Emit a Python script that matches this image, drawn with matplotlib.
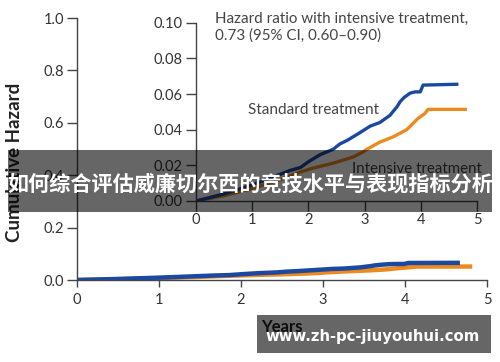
import matplotlib
matplotlib.use("Agg")
import matplotlib.pyplot as plt
from matplotlib.patches import Rectangle

# ---- data ----
std_years = [0, 0.25, 0.5, 0.75, 1.0, 1.25, 1.5, 1.68, 1.86, 2.0, 2.21, 2.44, 2.56, 2.69,
             2.9, 3.1, 3.27, 3.45, 3.58, 3.63, 3.7, 3.81, 3.9, 3.99, 4.04, 4.67]
std_hazard = [0, 0.002, 0.004, 0.0065, 0.009, 0.012, 0.015, 0.0172, 0.0188, 0.022, 0.026,
              0.029, 0.032, 0.034, 0.038, 0.042, 0.044, 0.048, 0.053, 0.0556, 0.058, 0.0605,
              0.0612, 0.0612, 0.065, 0.0655]
int_years = [0, 0.25, 0.5, 0.75, 1.0, 1.25, 1.5, 1.85, 2.09, 2.45, 2.8, 2.97, 3.04, 3.27,
             3.51, 3.75, 3.95, 4.07, 4.13, 4.82]
int_hazard = [0, 0.0015, 0.003, 0.005, 0.007, 0.0095, 0.012, 0.0162, 0.0185, 0.0213, 0.0247,
              0.0275, 0.029, 0.033, 0.036, 0.040, 0.0463, 0.049, 0.0514, 0.0514]
main_yticks = [0.0, 0.2, 0.4, 0.6, 0.8, 1.0]
inset_yticks = [0.00, 0.02, 0.04, 0.06, 0.08, 0.10]
xticks = [0, 1, 2, 3, 4, 5]

BLUE = "#1c49a0"
ORANGE = "#ec8a20"
TXT = "#333333"
FONT = "Lato"

W, H = 500, 362
fig = plt.figure(figsize=(W / 100, H / 100), dpi=100)
fig.patch.set_facecolor("white")

def px_axes(x0, y_top, x1, y_bot):
    return fig.add_axes([x0 / W, 1 - y_bot / H, (x1 - x0) / W, (y_bot - y_top) / H])

def style(ax):
    for s in ("top", "right"):
        ax.spines[s].set_visible(False)
    for s in ("left", "bottom"):
        ax.spines[s].set_color("#444444")
        ax.spines[s].set_linewidth(1.0)
    ax.tick_params(direction="out", colors="#444444", labelcolor=TXT, width=1.0,
                   labelsize=10.5, length=5.5, pad=2.5)
    for lab in ax.get_xticklabels() + ax.get_yticklabels():
        lab.set_fontfamily(FONT)

# main axes
ax = px_axes(77, 18, 487, 280)
ax.plot(std_years, std_hazard, color=BLUE, lw=3.2, solid_capstyle="butt", zorder=3)
ax.plot(int_years, int_hazard, color=ORANGE, lw=3.2, solid_capstyle="butt", zorder=2)
ax.set_xlim(0, 5)
ax.set_ylim(0, 1.0)
ax.set_xticks(xticks)
ax.set_yticks(main_yticks)
ax.set_yticklabels([f"{v:.1f}" for v in main_yticks])
ax.set_xticklabels([str(v) for v in xticks])
style(ax)
ax.tick_params(axis="x", length=5, pad=4)
ax.tick_params(axis="y", length=7)
ax.set_facecolor("none")

# inset axes
ins = px_axes(196, 22.7, 477, 201)
ins.plot(std_years, std_hazard, color=BLUE, lw=2.4, solid_capstyle="butt", zorder=3)
ins.plot(int_years, int_hazard, color=ORANGE, lw=2.4, solid_capstyle="butt", zorder=2)
ins.set_xlim(0, 5)
ins.set_ylim(0, 0.10)
ins.set_xticks(xticks)
ins.set_yticks(inset_yticks)
ins.set_yticklabels([f"{v:.2f}" for v in inset_yticks])
ins.set_xticklabels([str(v) for v in xticks])
style(ins)
ins.tick_params(axis="both", length=7)
ins.tick_params(axis="x", pad=2)
ins.set_facecolor("none")

ins.text(0.93, 0.051, "Standard treatment", fontsize=11, color="#444444",
         family=FONT, va="center", ha="left")
ins.text(2.78, 0.0179, "Intensive treatment", fontsize=10.8, color="#444444",
         family=FONT, va="center", ha="left")

fig.text(215 / W, 1 - 12 / H, "Hazard ratio with intensive treatment,\n0.73 (95% CI, 0.60\u20130.90)",
         fontsize=10.9, color="#444444", family=FONT, va="top", ha="left", linespacing=1.2)

fig.text(15 / W, 1 - 162.5 / H, "Cumulative Hazard", rotation=90, fontsize=13.5,
         fontweight="bold", color="#222222", family=FONT, va="center", ha="center")
fig.text(282 / W, 1 - 327 / H, "Years", fontsize=12, fontweight="bold", color="#222222",
         family=FONT, va="center", ha="center")

# overlay banner
fig.patches.append(Rectangle((8 / W, 1 - 212 / H), (492 - 8) / W, (212 - 150) / H,
                             transform=fig.transFigure, facecolor="black", alpha=0.6,
                             edgecolor="none", zorder=10))
fig.text(250 / W, 1 - 184 / H, "如何综合评估威廉切尔西的竞技水平与表现指标分析",
         fontsize=15.2, fontweight="bold", color="white",
         family=["Noto Sans CJK SC", "DejaVu Sans"], va="center", ha="center", zorder=11)

# watermark box
fig.patches.append(Rectangle((257 / W, 1 - 353 / H), (491 - 257) / W, (353 - 315) / H,
                             transform=fig.transFigure, facecolor="black", alpha=0.6,
                             edgecolor="none", zorder=10))
fig.text(373 / W, 1 - 337 / H, "www.zh-pc-jiuyouhui.com", fontsize=10.7, fontweight="bold",
         color="white", family="DejaVu Sans", va="center", ha="center", zorder=11)

fig.savefig("out.png", dpi=100)
